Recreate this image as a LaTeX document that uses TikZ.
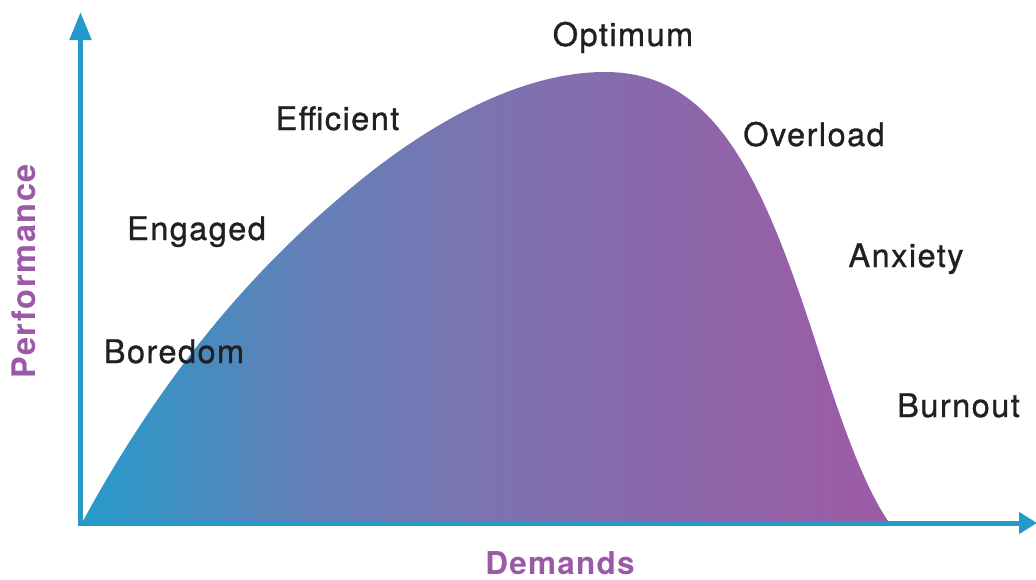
\documentclass[tikz,border=0pt]{standalone}
\usepackage{fontspec}
\setmainfont{TeX Gyre Heros}
\newfontfamily\labelfont[LetterSpace=4.5,FakeBold=0.9]{TeX Gyre Heros}
\newfontfamily\titlefont[LetterSpace=4]{TeX Gyre Heros}
\usetikzlibrary{arrows.meta}
\definecolor{axisblue}{RGB}{35,154,200}
\definecolor{titlepurple}{RGB}{155,90,168}
\definecolor{labelgray}{RGB}{35,31,32}
\definecolor{curveA}{RGB}{38,155,202}
\definecolor{curveB}{RGB}{98,128,184}
\definecolor{curveC}{RGB}{124,115,176}
\definecolor{curveD}{RGB}{157,90,165}
% left-to-right colour blend of the area under the curve
% (the path's extent maps onto 25bp..75bp)
\pgfdeclarehorizontalshading{curveblend}{100bp}{%
  color(0bp)=(curveA); color(25bp)=(curveA); color(38.5bp)=(curveB);
  color(50bp)=(curveC); color(75bp)=(curveD); color(100bp)=(curveD)}
\begin{document}
\begin{tikzpicture}[x=1pt,y=-1pt,
  axisline/.style={draw=axisblue,line width=5pt},
  zone/.style={inner sep=0pt,anchor=base,text=labelgray,font=\labelfont\fontsize{32.5}{32.5}\selectfont},
  axistitle/.style={inner sep=0pt,anchor=base,text=titlepurple,font=\titlefont\bfseries\fontsize{31.5}{31.5}\selectfont}]
\useasboundingbox (0,0) rectangle (1036,579);

% performance curve
\path[shading=curveblend]
  (83,521) .. controls (166,368) and (257,268) .. (337,200)
           .. controls (417,130) and (515,72) .. (605,72)
           .. controls (712,72) and (760,170) .. (815,340)
           .. controls (835,402) and (860,480) .. (888,521)
  -- cycle;

% axes
\coordinate (corner) at (78,523);
\coordinate (ybase) at (80.5,525.5);
\coordinate (ytip) at (80.5,12);
\coordinate (xtip) at (1037,523);
\draw[axisline,-{Triangle[length=28pt,width=21pt]}] (ybase) -- (ytip);
\draw[axisline,-{Triangle[length=18pt,width=21pt]}] (corner) -- (xtip);

% zone labels
\node[zone] (optimum)  at (623,46)  {Optimum};
\node[zone] (efficient) at (337.5,130) {Efficient};
\node[zone] (overload) at (814,146) {Overload};
\node[zone] (engaged)  at (196.5,240) {Engaged};
\node[zone] (anxiety)  at (906,267) {Anxiety};
\node[zone] (boredom)  at (174,363) {Boredom};
\node[zone] (burnout)  at (958.5,417) {Burnout};

% axis titles
\node[axistitle] (demands) at (560,574) {Demands};
\node[axistitle,font=\titlefont\bfseries\fontsize{32.5}{32.5}\selectfont\addfontfeature{LetterSpace=5}] (performance) at (35,271.5) [rotate=90] {Performance};
\end{tikzpicture}
\end{document}
